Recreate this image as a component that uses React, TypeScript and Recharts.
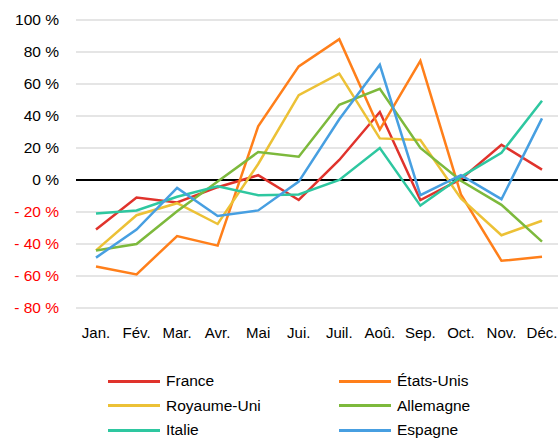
import { LineChart, Line, XAxis, YAxis, CartesianGrid, ReferenceLine } from 'recharts'

const months = ['Jan.', 'Fév.', 'Mar.', 'Avr.', 'Mai', 'Jui.', 'Juil.', 'Aoû.', 'Sep.', 'Oct.', 'Nov.', 'Déc.']

const france = [-31, -11, -14, -4.5, 3, -12.5, 12.5, 42.5, -12.5, 0.5, 22, 6.5]
const etatsUnis = [-54, -59, -35, -41, 33.5, 71, 88, 31.5, 74.5, -9, -50.5, -48]
const royaumeUni = [-44, -22, -14.5, -27.5, 10, 53, 66.5, 26, 25, -11.5, -34.5, -25.5]
const allemagne = [-44, -40, -19.5, -1, 17.5, 14.5, 47, 57, 20, -0.5, -15.5, -38.5]
const italie = [-21, -19, -10.5, -4, -9.5, -9, 0, 20, -16, 2, 17, 49.5]
const espagne = [-48.5, -31, -5, -22.5, -19, -1, 38, 72, -9.5, 3, -12, 38.5]

const yTicks = [-80, -60, -40, -20, 0, 20, 40, 60, 80, 100]

const series = [
  { key: 'france', name: 'France', color: '#e0332c', values: france },
  { key: 'etatsUnis', name: 'États-Unis', color: '#ff7f1a', values: etatsUnis },
  { key: 'royaumeUni', name: 'Royaume-Uni', color: '#ecc136', values: royaumeUni },
  { key: 'allemagne', name: 'Allemagne', color: '#7db93c', values: allemagne },
  { key: 'italie', name: 'Italie', color: '#2ec7a0', values: italie },
  { key: 'espagne', name: 'Espagne', color: '#479fe1', values: espagne },
]

const data = months.map((m, i) => {
  const row: Record<string, string | number> = { month: m }
  series.forEach((s) => { row[s.key] = s.values[i] })
  return row
})

const FONT = '"Liberation Sans", Arial, sans-serif'

function YTick({ x, y, payload }: any) {
  const v = payload.value as number
  const label = v < 0 ? `- ${-v} %` : `${v} %`
  return (
    <text x={x} y={y} dy="0.35em" textAnchor="end" fontSize={15.5} fontFamily={FONT} fill={v < 0 ? '#ff0000' : '#000'}>
      {label}
    </text>
  )
}

export default function App() {
  return (
    <div style={{ position: 'absolute', left: 0, top: 0, width: 558, height: 438, overflow: 'hidden', background: '#fff', fontFamily: FONT }}>
      <LineChart width={570} height={350} data={data} margin={{ top: 20, right: 8, left: 0, bottom: 0 }}>
        <CartesianGrid vertical={false} stroke="#dcdcdc" strokeWidth={1.5} />
        <XAxis dataKey="month" axisLine={false} tickLine={false} height={42} tickMargin={13}
          padding={{ left: 20, right: 20 }}
          tick={{ fontSize: 15, fill: '#000', fontFamily: FONT }} interval={0} />
        <YAxis type="number" domain={[-80, 100]} ticks={yTicks} axisLine={false} tickLine={false}
          width={76} tickMargin={11} tick={<YTick />} interval={0} />
        <ReferenceLine y={0} stroke="#000" strokeWidth={2} />
        {series.map((s) => (
          <Line key={s.key} dataKey={s.key} name={s.name} stroke={s.color} strokeWidth={2.5}
            dot={false} type="linear" isAnimationActive={false} />
        ))}
      </LineChart>
      {series.map((s, i) => {
        const col = i % 2
        const row = Math.floor(i / 2)
        const left = col === 0 ? 108 : 339
        const top = 381 + row * 24.5
        return (
          <div key={s.key} style={{ position: 'absolute', left, top: top - 10, height: 20, display: 'flex', alignItems: 'center' }}>
            <div style={{ width: 52, height: 3, background: s.color }} />
            <span style={{ marginLeft: 6, fontSize: 15.5, color: '#000', whiteSpace: 'nowrap' }}>{s.name}</span>
          </div>
        )
      })}
    </div>
  )
}
